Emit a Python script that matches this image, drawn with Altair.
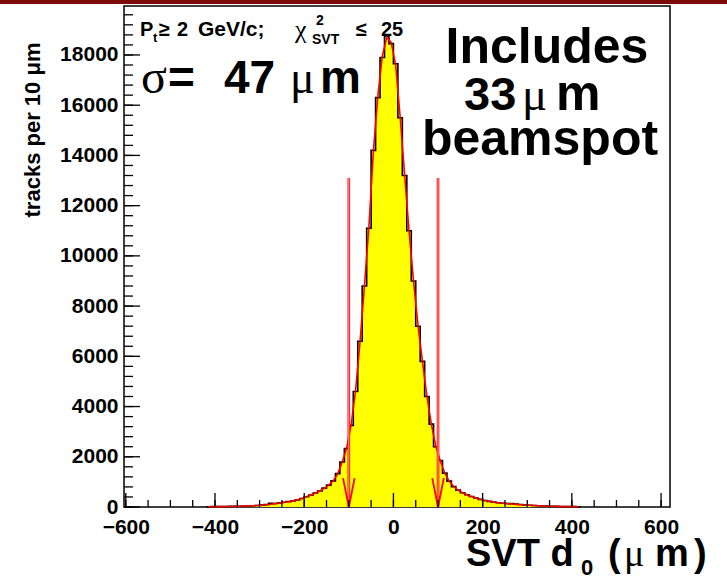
import altair as alt
import pandas as pd

# ---------------- data ----------------
bin_centers = list(range(-415, 416, 10))  # 10 um bins, -420 .. 420

hist_counts = [
    12, 14, 16, 18, 20, 24, 28, 32, 38, 44,
    52, 62, 76, 95, 150, 140, 165, 190, 215, 245,
    285, 340, 410, 480, 560, 640, 750, 870, 1040, 1330,
    1790, 2330, 3250, 4600, 6600, 8800, 11100, 14200, 16300, 17900,
    18750, 18450,
    17650, 15500, 13200, 11000, 9000, 7200, 5800, 4400, 3300, 2400,
    1850, 1350, 1030, 810, 670, 570, 490, 420, 360, 305,
    260, 225, 195, 170, 150, 140, 135, 120, 100, 82,
    68, 57, 48, 40, 34, 29, 25, 21, 18, 16,
    14, 12,
]

fit_counts = [
    10, 12, 14, 16, 19, 22, 26, 31, 37, 43,
    51, 61, 74, 90, 110, 135, 160, 185, 212, 245,
    285, 340, 405, 475, 555, 640, 745, 870, 1040, 1320,
    1780, 2340, 3260, 4620, 6550, 8800, 11150, 14150, 16350, 17950,
    18700, 18500,
    17600, 15550, 13250, 11000, 9000, 7250, 5800, 4420, 3300, 2420,
    1840, 1360, 1030, 815, 670, 570, 490, 420, 360, 305,
    262, 226, 196, 172, 152, 135, 120, 105, 92, 80,
    68, 57, 48, 40, 34, 29, 25, 21, 18, 15,
    13, 11,
]

cut_values = [-100, 100]
arrow_top = 13100

x_major = [-600, -400, -200, 0, 200, 400, 600]
x_minor = list(range(-600, 601, 50))
y_major = [0, 2000, 4000, 6000, 8000, 10000, 12000, 14000, 16000, 18000]
y_minor = list(range(0, 19951, 400))

# ---------------- layout / style constants ----------------
W, H = 546, 501
PAD_L, PAD_T = 124, 6
X_DOMAIN = [-604, 620]
Y_DOMAIN = [0, 19950]
HALF_BIN = 5
ARROW_HALF_W = 13
ARROW_HEAD_H = 1150
SANS = "Liberation Sans"
SERIF = "Liberation Serif"

xscale = alt.Scale(domain=X_DOMAIN, nice=False, zero=False)
yscale = alt.Scale(domain=Y_DOMAIN, nice=False)
xaxis = alt.Axis(values=x_major, format="d", title=None, labelPadding=9,
                 labelOverlap=False, labelFlush=False)
yaxis = alt.Axis(values=y_major, format="d", title=None, labelPadding=6,
                 labelOverlap=False, labelFlush=False)


def X(field):
    return alt.X(field, type="quantitative", scale=xscale, axis=xaxis)


def Y(field):
    return alt.Y(field, type="quantitative", scale=yscale, axis=yaxis)


step_df = pd.DataFrame({
    "x": [c - HALF_BIN for c in bin_centers] + [bin_centers[-1] + HALF_BIN],
    "count": hist_counts + [hist_counts[-1]],
})
step_df["zero"] = 0
fit_df = pd.DataFrame({"x": bin_centers, "count": fit_counts})

arrow_df = pd.DataFrame({"x": cut_values, "top": [arrow_top] * 2, "bottom": [0] * 2})
head_rows = []
for c in cut_values:
    for s in (-1, 1):
        head_rows.append({"x": c + s * ARROW_HALF_W, "y": ARROW_HEAD_H, "x2": c, "y2": 0})
head_df = pd.DataFrame(head_rows)

fill = alt.Chart(step_df).mark_area(interpolate="step-after", color="#ffff00",
                                    opacity=1).encode(
    x=X("x"), y=Y("count"), y2="zero")
step = alt.Chart(step_df).mark_line(interpolate="step-after", color="black",
                                    strokeWidth=1.6).encode(x=X("x"), y=Y("count"))
fit = alt.Chart(fit_df).mark_line(color="#ff0000", strokeWidth=1.6).encode(
    x=X("x"), y=Y("count"))
arrows = alt.Chart(arrow_df).mark_rule(color="#ff0000", strokeWidth=2.6).encode(
    x=X("x"), y=Y("top"), y2="bottom")
arrows_core = alt.Chart(arrow_df).mark_rule(color="#ffd0d0", strokeWidth=0.8).encode(
    x=X("x"), y=Y("top"), y2="bottom")
heads = alt.Chart(head_df).mark_rule(color="#ff0000", strokeWidth=1.8).encode(
    x=X("x"), y=Y("y"), x2="x2", y2="y2")

xt_major = alt.Chart(pd.DataFrame({"v": x_major})).mark_rule(
    color="black", strokeWidth=1.3).encode(
    x=X("v"), y=alt.value(H), y2=alt.value(H - 14))
xt_minor = alt.Chart(pd.DataFrame({"v": x_minor})).mark_rule(
    color="black", strokeWidth=1.3).encode(
    x=X("v"), y=alt.value(H), y2=alt.value(H - 7))
yt_major = alt.Chart(pd.DataFrame({"v": y_major})).mark_rule(
    color="black", strokeWidth=1.3).encode(
    y=Y("v"), x=alt.value(0), x2=alt.value(16))
yt_minor = alt.Chart(pd.DataFrame({"v": y_minor})).mark_rule(
    color="black", strokeWidth=1.3).encode(
    y=Y("v"), x=alt.value(0), x2=alt.value(9))

# top banner of the slide
banner = alt.Chart(pd.DataFrame({"a": [0]})).mark_rect(color="#7d0a0a").encode(
    x=alt.value(-PAD_L), x2=alt.value(727 - PAD_L),
    y=alt.value(-PAD_T), y2=alt.value(-PAD_T + 4))

# (text, abs x, abs y, size, font, weight, align, angle)
annotations = [
    ("P", 140, 36, 20, SANS, "bold", "left", 0),
    ("t", 153, 42, 13, SANS, "bold", "left", 0),
    ("\u2265", 159, 36, 20, SANS, "bold", "left", 0),
    ("2", 177, 36, 20, SANS, "bold", "left", 0),
    ("GeV/c;", 198, 36, 21, SANS, "bold", "left", 0),
    ("\u03c7", 295, 38, 26, SERIF, "normal", "left", 0),
    ("2", 316, 25, 14, SANS, "bold", "left", 0),
    ("SVT", 312, 44, 14, SANS, "bold", "left", 0),
    ("\u2264", 356, 36, 20, SANS, "bold", "left", 0),
    ("25", 381, 36, 20, SANS, "bold", "left", 0),
    ("\u03c3", 141, 93, 48, SERIF, "normal", "left", 0),
    ("=", 168, 93, 46, SANS, "bold", "left", 0),
    ("47", 224, 93, 46, SANS, "bold", "left", 0),
    ("\u03bc", 290, 93, 46, SERIF, "normal", "left", 0),
    ("m", 320, 93, 46, SANS, "bold", "left", 0),
    ("Includes", 547, 63, 50, SANS, "bold", "center", 0),
    ("33", 464, 110, 47, SANS, "bold", "left", 0),
    ("\u03bc", 522, 110, 47, SERIF, "normal", "left", 0),
    ("m", 556, 110, 50, SANS, "bold", "left", 0),
    ("beamspot", 540, 155, 50, SANS, "bold", "center", 0),
    ("tracks per 10  \u03bcm", 40, 130, 22, SANS, "bold", "center", 270),
    ("SVT d", 466, 566, 38, SANS, "bold", "left", 0),
    ("0", 581, 575, 22, SANS, "bold", "left", 0),
    ("(", 608, 566, 38, SANS, "bold", "left", 0),
    ("\u03bc", 624, 566, 38, SERIF, "normal", "left", 0),
    ("m", 655, 566, 38, SANS, "bold", "left", 0),
    (")", 694, 566, 38, SANS, "bold", "left", 0),
]

text_layers = []
for txt, ax, ay, size, font, weight, align, angle in annotations:
    kw = dict(text=txt, fontSize=size, font=font, fontWeight=weight,
              align=align, baseline="alphabetic", color="black")
    if angle:
        kw["angle"] = angle
    text_layers.append(
        alt.Chart(pd.DataFrame({"a": [0]})).mark_text(**kw).encode(
            x=alt.value(ax - PAD_L), y=alt.value(ay - PAD_T)))

chart = alt.layer(
    fill, step, fit, arrows, arrows_core, heads,
    xt_major, xt_minor, yt_major, yt_minor, banner, *text_layers
).properties(
    width=W, height=H,
    autosize=alt.AutoSizeParams(type="none"),
    padding={"left": PAD_L, "top": PAD_T, "right": 727 - PAD_L - W, "bottom": 579 - PAD_T - H},
    background="white",
).configure_view(
    stroke="black", strokeWidth=1.5
).configure_axis(
    labelFont=SANS, labelFontWeight="bold", labelFontSize=21, labelColor="black",
    ticks=False, tickSize=0, domain=False, grid=False,
)

chart.save("out.html", embed_options={"renderer": "svg", "actions": False})
